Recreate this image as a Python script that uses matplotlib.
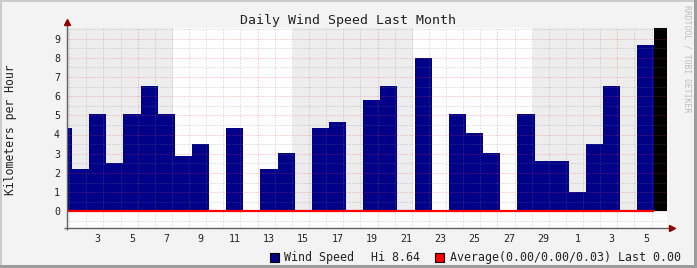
import numpy as np
import matplotlib
matplotlib.use("Agg")
import matplotlib.pyplot as plt
from matplotlib.patches import Rectangle

# ---------------- data ----------------
day_numbers = [1, 2, 3, 4, 5, 6, 7, 8, 9, 10, 11, 12, 13, 14, 15, 16, 17, 18, 19, 20,
               21, 22, 23, 24, 25, 26, 27, 28, 29, 30, 1, 2, 3, 4, 5, 6]
wind_speed = [4.32, 2.20, 5.07, 2.53, 5.07, 6.53, 5.07, 2.90, 3.50, 0.00,
              4.32, 0.00, 2.20, 3.04, 0.00, 4.32, 4.63, 0.00, 5.80, 6.53,
              0.00, 7.98, 0.00, 5.07, 4.08, 3.04, 0.00, 5.07, 2.62, 2.62,
              1.02, 3.50, 6.53, 0.00, 8.64, np.nan]
average = [0.00] * 35 + [np.nan]
avg_stats = (0.00, 0.00, 0.03)
y_ticks = [0, 1, 2, 3, 4, 5, 6, 7, 8, 9]

title = "Daily Wind Speed Last Month"
ylabel = "Kilometers per Hour"

# ---------------- style ----------------
W, H = 697, 268
DPI = 100
MONO = "DejaVu Sans Mono"
BLUE = "#000088"
FIG_BG = "#F3F3F3"
SHADE = "#EDEDED"
TXT = "#222222"
GRID_MINOR = (0.5, 0.5, 0.5, 0.42)
GRID_MAJOR = (1.0, 0.25, 0.25, 0.45)

plt.rcParams["font.family"] = [MONO, "DejaVu Sans"]

fig = plt.figure(figsize=(W / DPI, H / DPI), dpi=DPI, facecolor=FIG_BG)


def fx(px):
    return px / W


def fy(py):
    return 1 - py / H


# axes area in pixels
L, R, T, B = 67, 667, 28, 228
ax = fig.add_axes([fx(L), fy(B), (R - L) / W, (B - T) / H])
ax.set_facecolor("white")

day_px = 17.13
x0 = -(72 - L) / day_px
x1 = x0 + (R - L) / day_px
unit_px = 19.2
y0 = -(B - 211.3) / unit_px
y1 = y0 + (B - T) / unit_px

t = np.arange(len(wind_speed)) - 1.0
ws = np.array(wind_speed, dtype=float)

# alternating week shading
for s in np.arange(5.91 - 7, x1 + 7, 14):
    ax.fill_between([s, s + 7], 0, y1, color=SHADE, lw=0, zorder=0.5)

# wind speed bars
known = ~np.isnan(ws)
ax.bar(t[known], ws[known], width=1.0, align="edge", color=BLUE, lw=0, zorder=1)
# unknown -> black
unk = np.isnan(ws)
ax.bar(t[unk], np.full(unk.sum(), y1), width=1.0, align="edge", color="black", lw=0, zorder=1)

# grid (drawn on top, as rrdtool)
goff = -0.165
for k in np.arange(-1, 37):
    xv = k + 1 + goff
    major = ((k + 1 - 4) % 7) == 0
    ax.axvline(xv, color=GRID_MAJOR if major else GRID_MINOR, lw=0.72,
               ls=(0, (1, 2)), zorder=2)
for yv in np.arange(-0.5, 9.6, 0.5):
    major = float(yv).is_integer()
    ax.axhline(yv, color=GRID_MAJOR if major else GRID_MINOR, lw=0.72,
               ls=(0, (1, 2)), zorder=2)

# average line (step)
av = np.array(average, dtype=float)
tk = t[~np.isnan(av)]
ax.hlines(av[~np.isnan(av)], tk, tk + 1, colors="#FF0000", lw=1.6, zorder=3)

# axes lines + arrows
for sp in ax.spines.values():
    sp.set_visible(False)
axis_col = "#606060"
ax.plot([0, 0], [-0.01, 1.025], transform=ax.transAxes, color=axis_col, lw=1,
        clip_on=False, zorder=5, solid_capstyle="butt")
ax.plot([-0.005, 1.005], [0, 0], transform=ax.transAxes, color=axis_col, lw=1,
        clip_on=False, zorder=5, solid_capstyle="butt")
ax.plot([0], [1.03], marker="^", ms=4.2, color="#900000", transform=ax.transAxes,
        clip_on=False, zorder=6, mec="#900000")
ax.plot([1.008], [0], marker=">", ms=4.2, color="#900000", transform=ax.transAxes,
        clip_on=False, zorder=6, mec="#900000")

# ticks
odd = [i for i, d in enumerate(day_numbers) if d % 2 == 1 and x0 < t[i] + 0.5 < x1]
ax.set_xticks([t[i] + 0.5 for i in odd])
ax.set_xticklabels([str(day_numbers[i]) for i in odd])
ax.set_yticks(y_ticks)
ax.set_yticklabels([str(v) for v in y_ticks])
ax.tick_params(axis="x", length=0, pad=4.2, labelsize=7.2, colors=TXT)
ax.tick_params(axis="y", length=0, pad=5, labelsize=7.2, colors=TXT)

ax.set_xlim(x0, x1)
ax.set_ylim(y0, y1)

fig.text(fx(11), fy(130), ylabel, rotation=90, ha="center", va="center",
         fontsize=8.3, color=TXT)

# title
fig.text(fx(348), fy(20.5), title, ha="center", va="center", fontsize=9.5, color=TXT)

# watermark
fig.text(fx(687.5), fy(5), "RRDTOOL / TOBI OETIKER", rotation=270, ha="center",
         va="top", fontsize=5.9, color="#BDBDBD")


# legend
def legend_box(px, py, color):
    fig.add_artist(Rectangle((fx(px), fy(py + 9)), 9 / W, 9 / H, transform=fig.transFigure,
                             facecolor=color, edgecolor="black", lw=0.8))


ly = 257.8
legend_box(270, ly - 4.5, BLUE)
fig.text(fx(284), fy(ly), "Wind Speed", ha="left", va="center", fontsize=8.4, color=TXT)
fig.text(fx(371), fy(ly), f"Hi {np.nanmax(ws):.2f}", ha="left", va="center", fontsize=8.4,
         color=TXT)
legend_box(435, ly - 4.5, "#FF0000")
fig.text(fx(450), fy(ly),
         "Average({:.2f}/{:.2f}/{:.2f}) Last {:.2f}".format(*avg_stats, av[~np.isnan(av)][-1]),
         ha="left", va="center", fontsize=8.4, color=TXT)

# 3D-ish border
fig.add_artist(Rectangle((0, fy(2)), 1, 2 / H, transform=fig.transFigure, color="#CBCBCB", lw=0))
fig.add_artist(Rectangle((0, 0), 2 / W, 1, transform=fig.transFigure, color="#CBCBCB", lw=0))
fig.add_artist(Rectangle((0, 0), 1, 3 / H, transform=fig.transFigure, color="#9C9C9C", lw=0))
fig.add_artist(Rectangle((fx(694), 0), 3 / W, 1, transform=fig.transFigure, color="#9C9C9C", lw=0))

fig.savefig("out.png", dpi=DPI, facecolor=FIG_BG)
